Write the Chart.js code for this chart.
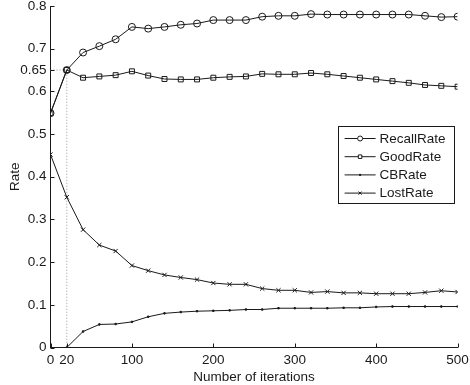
<!DOCTYPE html>
<html><head><meta charset="utf-8">
<script src="https://cdn.jsdelivr.net/npm/chart.js@4/dist/chart.umd.min.js"></script>
<style>html,body{margin:0;padding:0;background:#fff}#wrap{width:470px;height:385px}</style>
</head><body><div id="wrap"><canvas id="c" width="470" height="385"></canvas></div>
<script>
const iterations = [0,20,40,60,80,100,120,140,160,180,200,220,240,260,280,300,320,340,360,380,400,420,440,460,480,500];
const recallRate = [0.549,0.650,0.691,0.706,0.722,0.751,0.747,0.751,0.756,0.759,0.767,0.767,0.767,0.775,0.777,0.777,0.781,0.780,0.780,0.780,0.780,0.780,0.780,0.777,0.774,0.775];
const goodRate   = [0.549,0.650,0.632,0.635,0.638,0.647,0.637,0.629,0.628,0.628,0.632,0.634,0.635,0.641,0.640,0.640,0.643,0.640,0.636,0.632,0.628,0.624,0.620,0.615,0.613,0.611];
const cbRate     = [0.000,0.000,0.0375,0.054,0.055,0.060,0.072,0.080,0.083,0.085,0.086,0.087,0.089,0.089,0.092,0.092,0.092,0.092,0.093,0.093,0.095,0.096,0.096,0.096,0.096,0.096];
const lostRate   = [0.452,0.352,0.276,0.240,0.226,0.192,0.180,0.170,0.164,0.159,0.151,0.148,0.148,0.138,0.134,0.134,0.129,0.131,0.128,0.128,0.126,0.126,0.126,0.129,0.133,0.130];
const seriesNames = ['RecallRate','GoodRate','CBRate','LostRate'];
const xTicks = [0,20,100,200,300,400,500];
const yTicks = [0,0.1,0.2,0.3,0.4,0.5,0.6,0.65,0.7,0.8];
const markX = 20, markY = 0.65;

const ink = '#1a1a1a';
const toPts = arr => arr.map((v,i)=>({x:iterations[i], y:v}));
const styles = [
  {pointStyle:'circle', pointRadius:3.5},
  {pointStyle:'rect', pointRadius:3.5},
  {pointStyle:'rect', pointRadius:1},
  {pointStyle:'crossRot', pointRadius:3}
];
const vals = [recallRate, goodRate, cbRate, lostRate];
const datasets = vals.map((arr,i)=>({
  label: seriesNames[i], data: toPts(arr),
  borderColor: ink, backgroundColor: i===2 ? ink : 'rgba(0,0,0,0)',
  pointBorderColor: ink, pointBackgroundColor: i===2 ? ink : 'rgba(0,0,0,0)',
  borderWidth: 1, pointBorderWidth: 1,
  pointStyle: styles[i].pointStyle, pointRadius: styles[i].pointRadius,
  tension: 0, order: 1
}));
datasets.push({
  label: '_guide', data: [{x:0,y:markY},{x:markX,y:markY},{x:markX,y:0}],
  borderColor: '#999', borderWidth: 1, borderDash: [1,2], pointRadius: 0, order: 2
});

const fam = '"Liberation Sans", Arial, sans-serif';
const font = {family: fam, size: 13.5};

const innerTicks = {
  id: 'innerTicks',
  afterDraw(chart) {
    const ctx = chart.ctx, ca = chart.chartArea;
    const xs = chart.scales.x, ys = chart.scales.y;
    ctx.save();
    ctx.strokeStyle = ink; ctx.lineWidth = 1;
    ctx.beginPath();
    xs.ticks.forEach(t => { const p = Math.round(xs.getPixelForValue(t.value)) + 0.5; ctx.moveTo(p, ca.bottom); ctx.lineTo(p, ca.bottom - 4); });
    ys.ticks.forEach(t => { const p = Math.round(ys.getPixelForValue(t.value)) + 0.5; ctx.moveTo(ca.left, p); ctx.lineTo(ca.left + 4, p); });
    ctx.stroke();
    // legend
    const bx = ca.right - 120, by = ca.top + 120, bw = 116, bh = 77;
    ctx.fillStyle = '#fff';
    ctx.fillRect(bx, by, bw, bh);
    ctx.strokeStyle = ink; ctx.lineWidth = 1;
    ctx.strokeRect(Math.round(bx)+0.5, Math.round(by)+0.5, bw, bh);
    ctx.font = '13.5px ' + fam;
    ctx.textBaseline = 'middle';
    for (let i = 0; i < 4; i++) {
      const ds = chart.data.datasets[i];
      const y = by + 12.5 + i * 18.2;
      ctx.strokeStyle = ink;
      ctx.beginPath(); ctx.moveTo(bx + 7, y); ctx.lineTo(bx + 38, y); ctx.stroke();
      if (i === 2) {
        ctx.fillStyle = ink; ctx.fillRect(bx+21.5, y-1, 2, 2);
      } else {
        ctx.fillStyle = '#fff';
        Chart.helpers.drawPoint(ctx, {pointStyle: ds.pointStyle, radius: i === 3 ? 2.2 : 2.5, borderWidth: 1}, bx + 22.5, y);
      }
      ctx.fillStyle = ink;
      ctx.fillText(ds.label, bx + 42, y + 0.5);
    }
    ctx.restore();
  }
};

new Chart(document.getElementById('c'), {
  type: 'line',
  data: { datasets },
  plugins: [innerTicks],
  options: {
    responsive: false, animation: false,
    layout: { padding: { left: 0, right: 12.4, top: 6, bottom: 0 } },
    plugins: { legend: { display: false }, tooltip: { enabled: false } },
    scales: {
      x: {
        type: 'linear', min: 0, max: 500,
        afterBuildTicks: s => { s.ticks = xTicks.map(v => ({value: v})); },
        afterFit: s => { s.height = 37.5; s.paddingLeft = 0; s.paddingRight = 0; },
        ticks: { autoSkip: false, maxRotation: 0, color: ink, font, padding: 5, callback: v => String(v) },
        grid: { display: true, drawOnChartArea: false, drawTicks: false },
        border: { display: true, color: ink, width: 1 },
        title: { display: true, text: 'Number of iterations', color: ink, font, padding: {top: 0, bottom: 0} }
      },
      y: {
        type: 'linear', min: 0, max: 0.8,
        afterBuildTicks: s => { s.ticks = yTicks.map(v => ({value: v})); },
        afterFit: s => { s.width = 50.5; s.paddingTop = 0; s.paddingBottom = 0; },
        ticks: { autoSkip: false, color: ink, font, padding: 4, callback: v => String(v) },
        grid: { display: true, drawOnChartArea: false, drawTicks: false },
        border: { display: true, color: ink, width: 1 },
        title: { display: true, text: 'Rate', color: ink, font, padding: {top: 7, bottom: 0} }
      }
    }
  }
});
</script></body></html>
